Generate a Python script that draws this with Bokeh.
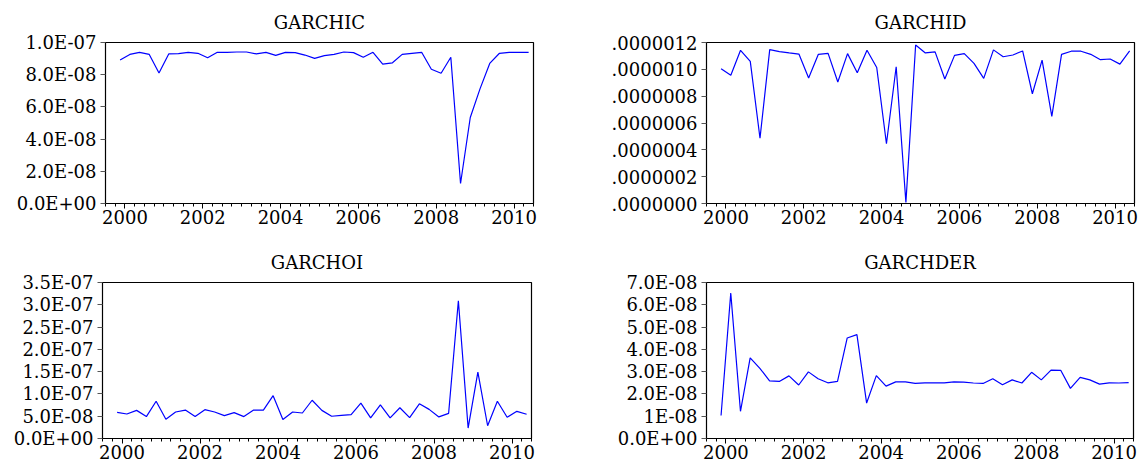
import pandas as pd
from bokeh.plotting import figure
from bokeh.layouts import column, row
from bokeh.models import FixedTicker, Range1d
from bokeh.embed import file_html
from bokeh.resources import INLINE

# ---------------- data (quarterly, 2000Q2 .. 2010Q4) ----------------
quarters = pd.period_range("2000Q2", "2010Q4", freq="Q")

# GARCHIC, units of 1E-08
garchic = [8.91, 9.26, 9.39, 9.26, 8.11, 9.29, 9.31, 9.39, 9.33, 9.05,
           9.39, 9.39, 9.41, 9.41, 9.29, 9.39, 9.20, 9.39, 9.37, 9.22,
           9.01, 9.18, 9.26, 9.41, 9.37, 9.08, 9.39, 8.66, 8.74, 9.26,
           9.33, 9.39, 8.34, 8.09, 9.08, 1.24, 5.34, 7.12, 8.70, 9.33,
           9.39, 9.39, 9.39]

# GARCHID, units of 1E-07
garchid = [10.04, 9.56, 11.42, 10.59, 4.86, 11.47, 11.32, 11.22, 11.14, 9.36,
           11.12, 11.19, 9.06, 11.17, 9.74, 11.42, 10.14, 4.45, 10.19, 0.08,
           11.82, 11.22, 11.30, 9.28, 11.04, 11.17, 10.44, 9.33, 11.45, 10.94,
           11.07, 11.37, 8.18, 10.69, 6.49, 11.12, 11.35, 11.35, 11.12, 10.72,
           10.77, 10.39, 11.37]

# GARCHOI, units of 1E-08
garchoi = [5.87, 5.50, 6.31, 4.92, 8.36, 4.33, 5.94, 6.38, 4.92, 6.46,
           5.94, 5.14, 5.80, 4.92, 6.38, 6.38, 9.61, 4.26, 5.94, 5.72,
           8.58, 6.31, 4.99, 5.21, 5.36, 7.92, 4.62, 7.56, 4.62, 6.90,
           4.70, 7.78, 6.53, 4.84, 5.65, 30.90, 2.35, 14.90, 2.86, 8.36,
           4.77, 6.09, 5.43]

# GARCHDER, units of 1E-08
garchder = [1.03, 6.53, 1.22, 3.62, 3.15, 2.59, 2.56, 2.81, 2.40, 2.99,
            2.68, 2.50, 2.56, 4.51, 4.66, 1.59, 2.82, 2.35, 2.54, 2.54,
            2.47, 2.50, 2.50, 2.50, 2.54, 2.53, 2.49, 2.47, 2.68, 2.41,
            2.63, 2.49, 2.97, 2.63, 3.07, 3.06, 2.25, 2.74, 2.63, 2.44,
            2.50, 2.49, 2.51]

label_years = [2000, 2002, 2004, 2006, 2008, 2010]

ic_ticks = [0, 2, 4, 6, 8, 10]
ic_labels = ["0.0E+00", "2.0E-08", "4.0E-08", "6.0E-08", "8.0E-08", "1.0E-07"]
id_ticks = [0, 2, 4, 6, 8, 10, 12]
id_labels = [".0000000", ".0000002", ".0000004", ".0000006", ".0000008", ".0000010", ".0000012"]
oi_ticks = [0, 5, 10, 15, 20, 25, 30, 35]
oi_labels = ["0.0E+00", "5.0E-08", "1.0E-07", "1.5E-07", "2.0E-07", "2.5E-07", "3.0E-07", "3.5E-07"]
der_ticks = [0, 1, 2, 3, 4, 5, 6, 7]
der_labels = ["0.0E+00", "1E-08", "2.0E-08", "3.0E-08", "4.0E-08", "5.0E-08", "6.0E-08", "7.0E-08"]

# quarter centres on a fractional-year axis
x = [q.year + (q.quarter - 1) / 4 + 0.125 for q in quarters]

FONT = "DejaVu Serif"


def make_panel(title, yvals, yticks, ylabels, ymax, width, height, mbl, mbr, mbt, mbb):
    p = figure(width=width, height=height, output_backend="svg", toolbar_location=None,
               x_range=Range1d(2000, 2011), y_range=Range1d(0, ymax), title=title,
               min_border_left=mbl, min_border_right=mbr, min_border_top=mbt,
               min_border_bottom=mbb, background_fill_color="white",
               border_fill_color="white")
    p.line(x, yvals, line_color="#0000FF", line_width=1.2)
    p.grid.visible = False
    p.outline_line_color = "black"
    p.outline_line_width = 1.2
    p.outline_line_alpha = 1

    p.title.align = "center"
    p.title.text_font = FONT
    p.title.text_font_size = "18px"
    p.title.text_font_style = "normal"
    p.title.text_color = "black"
    p.title.standoff = 19

    xa = p.xaxis[0]
    xa.ticker = FixedTicker(ticks=[yr + 0.5 for yr in label_years],
                            minor_ticks=[2000 + 0.25 * k for k in range(45)])
    xa.major_label_overrides = {yr + 0.5: str(yr) for yr in label_years}
    xa.major_tick_out = 5
    xa.major_tick_in = 0
    xa.minor_tick_out = 3
    xa.minor_tick_in = 0
    xa.major_label_standoff = 1
    xa.axis_line_color = "black"
    xa.major_tick_line_color = "black"
    xa.minor_tick_line_color = "black"
    xa.major_label_text_font = FONT
    xa.major_label_text_font_size = "18px"
    xa.major_label_text_color = "black"

    ya = p.yaxis[0]
    ya.ticker = FixedTicker(ticks=yticks, minor_ticks=[])
    ya.major_label_overrides = {t: l for t, l in zip(yticks, ylabels)}
    ya.major_tick_out = 5
    ya.major_tick_in = 0
    ya.minor_tick_line_color = None
    ya.major_label_standoff = 4
    ya.axis_line_color = "black"
    ya.major_tick_line_color = "#555555"
    ya.major_label_text_font = FONT
    ya.major_label_text_font_size = "18px"
    ya.major_label_text_color = "black"
    return p


p1 = make_panel("GARCHIC", garchic, ic_ticks, ic_labels, 10, 570, 240, 105, 37, 42, 37)
p2 = make_panel("GARCHID", garchid, id_ticks, id_labels, 12, 569, 240, 136, 5, 42, 37)
p3 = make_panel("GARCHOI", garchoi, oi_ticks, oi_labels, 35, 570, 221, 102, 39, 42, 21)
p4 = make_panel("GARCHDER", garchder, der_ticks, der_labels, 7, 569, 221, 136, 6, 42, 21)

layout = column(row(p1, p2, spacing=0), row(p3, p4, spacing=0), spacing=0)

open("out.html", "w").write(file_html(layout, INLINE))
